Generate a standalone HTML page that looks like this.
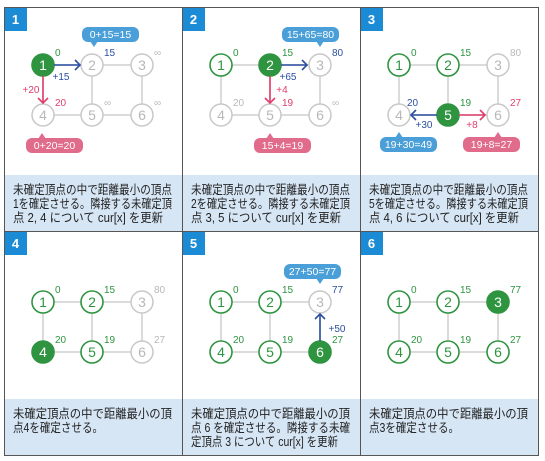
<!DOCTYPE html>
<html><head><meta charset="utf-8"><style>
html,body{margin:0;padding:0;background:#fff}
svg{display:block}
text{font-family:"Liberation Sans","Noto Sans CJK JP",sans-serif}
.cap{font-family:"Liberation Sans","Noto Sans CJK JP",sans-serif;font-size:12.5px;fill:#222}
.nl{font-size:14px;text-anchor:middle}
.dl{font-size:10px}
.bt{font-size:10.5px;fill:#fff;text-anchor:middle}
.sg{font-size:10px;text-anchor:middle}
.e{stroke:#cfcfcf;stroke-width:1.5}
.g{fill:#fff;stroke:#c8c8c8;stroke-width:1.5}
.go{fill:#fff;stroke:#2e9440;stroke-width:1.6}
.gf{fill:#2e9440;stroke:#2e9440;stroke-width:1.6}
.tg{fill:#b8b8b8}.tgo{fill:#2e9440}.tw{fill:#fff}
.cG{fill:#b8b8b8}.cB{fill:#2a4fa0}.cP{fill:#e23d6a}.cN{fill:#2e9440}
.ab{stroke:#2a4fa0;stroke-width:1.6;fill:none}
.ap{stroke:#e23d6a;stroke-width:1.6;fill:none}
</style></head><body>
<svg width="545" height="461" viewBox="0 0 545 461">
<defs>
<g id="edges">
<line class="e" x1="39" y1="58" x2="138" y2="58"/>
<line class="e" x1="39" y1="108" x2="138" y2="108"/>
<line class="e" x1="39" y1="58" x2="39" y2="108"/>
<line class="e" x1="88" y1="58" x2="88" y2="108"/>
<line class="e" x1="138" y1="58" x2="138" y2="108"/>
</g>
<g id="frame">
<rect x="0" y="168" width="178" height="56" fill="#d7e6f5"/>
<rect x="0" y="0" width="23" height="24" fill="#1b8bd6"/>
</g>
</defs>

<!-- Panel 1 -->
<g transform="translate(4,7)">
<use href="#frame"/>
<text x="11.5" y="17" class="tw" font-size="13" font-weight="bold" text-anchor="middle">1</text>
<use href="#edges"/>
<circle cx="39" cy="58" r="11" class="gf"/><text x="39" y="63" class="nl tw">1</text>
<circle cx="88" cy="58" r="11" class="g"/><text x="88" y="63" class="nl tg">2</text>
<circle cx="138" cy="58" r="11" class="g"/><text x="138" y="63" class="nl tg">3</text>
<circle cx="39" cy="108" r="11" class="g"/><text x="39" y="113" class="nl tg">4</text>
<circle cx="88" cy="108" r="11" class="g"/><text x="88" y="113" class="nl tg">5</text>
<circle cx="138" cy="108" r="11" class="g"/><text x="138" y="113" class="nl tg">6</text>
<text x="51" y="49" class="dl cN">0</text>
<text x="100" y="49" class="dl cB">15</text>
<text x="150" y="49" class="dl cG">∞</text>
<text x="51" y="99" class="dl cP">20</text>
<text x="100" y="99" class="dl cG">∞</text>
<text x="150" y="99" class="dl cG">∞</text>
<line class="ab" x1="50" y1="58" x2="76" y2="58"/><polyline class="ab" points="71,53 76,58 71,63"/>
<text x="57" y="73" class="sg cB">+15</text>
<line class="ap" x1="39" y1="69" x2="39" y2="96"/><polyline class="ap" points="34,91 39,96 44,91"/>
<text x="27" y="86" class="sg cP">+20</text>
<rect x="78" y="20" width="57" height="15" rx="6" fill="#4a9fd8"/><polygon points="86,34 94,34 90,40" fill="#4a9fd8"/>
<text x="106.5" y="31" class="bt">0+15=15</text>
<rect x="22" y="131" width="57" height="15" rx="6" fill="#e06b8a"/><polygon points="34,132 42,132 38,126" fill="#e06b8a"/>
<text x="50.5" y="142" class="bt">0+20=20</text>
<text class="cap" x="9" y="187" textLength="159" lengthAdjust="spacingAndGlyphs">未確定頂点の中で距離最小の頂点</text>
<text class="cap" x="9" y="201" textLength="159" lengthAdjust="spacingAndGlyphs">1を確定させる。隣接する未確定頂</text>
<text class="cap" x="9" y="215" textLength="150" lengthAdjust="spacingAndGlyphs">点 2, 4 について cur[x] を更新</text>
</g>

<!-- Panel 2 -->
<g transform="translate(182,7)">
<use href="#frame"/>
<text x="11.5" y="17" class="tw" font-size="13" font-weight="bold" text-anchor="middle">2</text>
<use href="#edges"/>
<circle cx="39" cy="58" r="11" class="go"/><text x="39" y="63" class="nl tgo">1</text>
<circle cx="88" cy="58" r="11" class="gf"/><text x="88" y="63" class="nl tw">2</text>
<circle cx="138" cy="58" r="11" class="g"/><text x="138" y="63" class="nl tg">3</text>
<circle cx="39" cy="108" r="11" class="g"/><text x="39" y="113" class="nl tg">4</text>
<circle cx="88" cy="108" r="11" class="g"/><text x="88" y="113" class="nl tg">5</text>
<circle cx="138" cy="108" r="11" class="g"/><text x="138" y="113" class="nl tg">6</text>
<text x="51" y="49" class="dl cN">0</text>
<text x="100" y="49" class="dl cN">15</text>
<text x="150" y="49" class="dl cB">80</text>
<text x="51" y="99" class="dl cG">20</text>
<text x="100" y="99" class="dl cP">19</text>
<text x="150" y="99" class="dl cG">∞</text>
<line class="ab" x1="99" y1="58" x2="125" y2="58"/><polyline class="ab" points="120,53 125,58 120,63"/>
<text x="106" y="73" class="sg cB">+65</text>
<line class="ap" x1="88" y1="69" x2="88" y2="96"/><polyline class="ap" points="83,91 88,96 93,91"/>
<text x="100" y="86" class="sg cP">+4</text>
<rect x="100" y="20" width="57" height="15" rx="6" fill="#4a9fd8"/><polygon points="134,34 142,34 138,40" fill="#4a9fd8"/>
<text x="128.5" y="31" class="bt">15+65=80</text>
<rect x="72" y="131" width="57" height="15" rx="6" fill="#e06b8a"/><polygon points="84,132 92,132 88,126" fill="#e06b8a"/>
<text x="100.5" y="142" class="bt">15+4=19</text>
<text class="cap" x="9" y="187" textLength="159" lengthAdjust="spacingAndGlyphs">未確定頂点の中で距離最小の頂点</text>
<text class="cap" x="9" y="201" textLength="159" lengthAdjust="spacingAndGlyphs">2を確定させる。隣接する未確定頂</text>
<text class="cap" x="9" y="215" textLength="150" lengthAdjust="spacingAndGlyphs">点 3, 5 について cur[x] を更新</text>
</g>

<!-- Panel 3 -->
<g transform="translate(360,7)">
<use href="#frame"/>
<text x="11.5" y="17" class="tw" font-size="13" font-weight="bold" text-anchor="middle">3</text>
<use href="#edges"/>
<circle cx="39" cy="58" r="11" class="go"/><text x="39" y="63" class="nl tgo">1</text>
<circle cx="88" cy="58" r="11" class="go"/><text x="88" y="63" class="nl tgo">2</text>
<circle cx="138" cy="58" r="11" class="g"/><text x="138" y="63" class="nl tg">3</text>
<circle cx="39" cy="108" r="11" class="g"/><text x="39" y="113" class="nl tg">4</text>
<circle cx="88" cy="108" r="11" class="gf"/><text x="88" y="113" class="nl tw">5</text>
<circle cx="138" cy="108" r="11" class="g"/><text x="138" y="113" class="nl tg">6</text>
<text x="51" y="49" class="dl cN">0</text>
<text x="100" y="49" class="dl cN">15</text>
<text x="150" y="49" class="dl cG">80</text>
<text x="47" y="99" class="dl cB">20</text>
<text x="100" y="99" class="dl cN">19</text>
<text x="150" y="99" class="dl cP">27</text>
<line class="ab" x1="77" y1="108" x2="51" y2="108"/><polyline class="ab" points="56,103 51,108 56,113"/>
<text x="64" y="121" class="sg cB">+30</text>
<line class="ap" x1="99" y1="108" x2="125" y2="108"/><polyline class="ap" points="120,103 125,108 120,113"/>
<text x="112" y="121" class="sg cP">+8</text>
<rect x="20" y="130" width="57" height="15" rx="6" fill="#4a9fd8"/><polygon points="35,131 43,131 39,125" fill="#4a9fd8"/>
<text x="48.5" y="141" class="bt">19+30=49</text>
<rect x="103" y="130" width="57" height="15" rx="6" fill="#e06b8a"/><polygon points="134,131 142,131 138,125" fill="#e06b8a"/>
<text x="131.5" y="141" class="bt">19+8=27</text>
<text class="cap" x="9" y="187" textLength="159" lengthAdjust="spacingAndGlyphs">未確定頂点の中で距離最小の頂点</text>
<text class="cap" x="9" y="201" textLength="159" lengthAdjust="spacingAndGlyphs">5を確定させる。隣接する未確定頂</text>
<text class="cap" x="9" y="215" textLength="150" lengthAdjust="spacingAndGlyphs">点 4, 6 について cur[x] を更新</text>
</g>

<!-- Panel 4 -->
<g transform="translate(4,231)">
<use href="#frame"/>
<text x="11.5" y="17" class="tw" font-size="13" font-weight="bold" text-anchor="middle">4</text>
<g transform="translate(0,13)">
<use href="#edges"/>
<circle cx="39" cy="58" r="11" class="go"/><text x="39" y="63" class="nl tgo">1</text>
<circle cx="88" cy="58" r="11" class="go"/><text x="88" y="63" class="nl tgo">2</text>
<circle cx="138" cy="58" r="11" class="g"/><text x="138" y="63" class="nl tg">3</text>
<circle cx="39" cy="108" r="11" class="gf"/><text x="39" y="113" class="nl tw">4</text>
<circle cx="88" cy="108" r="11" class="go"/><text x="88" y="113" class="nl tgo">5</text>
<circle cx="138" cy="108" r="11" class="g"/><text x="138" y="113" class="nl tg">6</text>
<text x="51" y="49" class="dl cN">0</text>
<text x="100" y="49" class="dl cN">15</text>
<text x="150" y="49" class="dl cG">80</text>
<text x="51" y="99" class="dl cN">20</text>
<text x="100" y="99" class="dl cN">19</text>
<text x="150" y="99" class="dl cG">27</text>
</g>
<text class="cap" x="9" y="187" textLength="159" lengthAdjust="spacingAndGlyphs">未確定頂点の中で距離最小の頂</text>
<text class="cap" x="9" y="201" textLength="90" lengthAdjust="spacingAndGlyphs">点4を確定させる。</text>
</g>

<!-- Panel 5 -->
<g transform="translate(182,231)">
<use href="#frame"/>
<text x="11.5" y="17" class="tw" font-size="13" font-weight="bold" text-anchor="middle">5</text>
<g transform="translate(0,13)">
<use href="#edges"/>
<circle cx="39" cy="58" r="11" class="go"/><text x="39" y="63" class="nl tgo">1</text>
<circle cx="88" cy="58" r="11" class="go"/><text x="88" y="63" class="nl tgo">2</text>
<circle cx="138" cy="58" r="11" class="g"/><text x="138" y="63" class="nl tg">3</text>
<circle cx="39" cy="108" r="11" class="go"/><text x="39" y="113" class="nl tgo">4</text>
<circle cx="88" cy="108" r="11" class="go"/><text x="88" y="113" class="nl tgo">5</text>
<circle cx="138" cy="108" r="11" class="gf"/><text x="138" y="113" class="nl tw">6</text>
<text x="51" y="49" class="dl cN">0</text>
<text x="100" y="49" class="dl cN">15</text>
<text x="150" y="49" class="dl cB">77</text>
<text x="51" y="99" class="dl cN">20</text>
<text x="100" y="99" class="dl cN">19</text>
<text x="150" y="99" class="dl cN">27</text>
<line class="ab" x1="138" y1="97" x2="138" y2="70"/><polyline class="ab" points="133,75 138,70 143,75"/>
<text x="155" y="88" class="sg cB">+50</text>
<rect x="102" y="20" width="57" height="15" rx="6" fill="#4a9fd8"/><polygon points="134,34 142,34 138,40" fill="#4a9fd8"/>
<text x="130.5" y="31" class="bt">27+50=77</text>
</g>
<text class="cap" x="9" y="187" textLength="159" lengthAdjust="spacingAndGlyphs">未確定頂点の中で距離最小の頂</text>
<text class="cap" x="9" y="201" textLength="159" lengthAdjust="spacingAndGlyphs">点 6 を確定させる。隣接する未確</text>
<text class="cap" x="9" y="215" textLength="147" lengthAdjust="spacingAndGlyphs">定頂点 3 について cur[x] を更新</text>
</g>

<!-- Panel 6 -->
<g transform="translate(360,231)">
<use href="#frame"/>
<text x="11.5" y="17" class="tw" font-size="13" font-weight="bold" text-anchor="middle">6</text>
<g transform="translate(0,13)">
<use href="#edges"/>
<circle cx="39" cy="58" r="11" class="go"/><text x="39" y="63" class="nl tgo">1</text>
<circle cx="88" cy="58" r="11" class="go"/><text x="88" y="63" class="nl tgo">2</text>
<circle cx="138" cy="58" r="11" class="gf"/><text x="138" y="63" class="nl tw">3</text>
<circle cx="39" cy="108" r="11" class="go"/><text x="39" y="113" class="nl tgo">4</text>
<circle cx="88" cy="108" r="11" class="go"/><text x="88" y="113" class="nl tgo">5</text>
<circle cx="138" cy="108" r="11" class="go"/><text x="138" y="113" class="nl tgo">6</text>
<text x="51" y="49" class="dl cN">0</text>
<text x="100" y="49" class="dl cN">15</text>
<text x="150" y="49" class="dl cN">77</text>
<text x="51" y="99" class="dl cN">20</text>
<text x="100" y="99" class="dl cN">19</text>
<text x="150" y="99" class="dl cN">27</text>
</g>
<text class="cap" x="9" y="187" textLength="159" lengthAdjust="spacingAndGlyphs">未確定頂点の中で距離最小の頂</text>
<text class="cap" x="9" y="201" textLength="90" lengthAdjust="spacingAndGlyphs">点3を確定させる。</text>
</g>

<!-- grid lines -->
<g stroke="#555" stroke-width="1" fill="none">
<rect x="4.5" y="7.5" width="534" height="448"/>
<line x1="182.5" y1="7" x2="182.5" y2="456"/>
<line x1="360.5" y1="7" x2="360.5" y2="456"/>
<line x1="4" y1="231.5" x2="539" y2="231.5"/>
</g>
</svg>
</body></html>
